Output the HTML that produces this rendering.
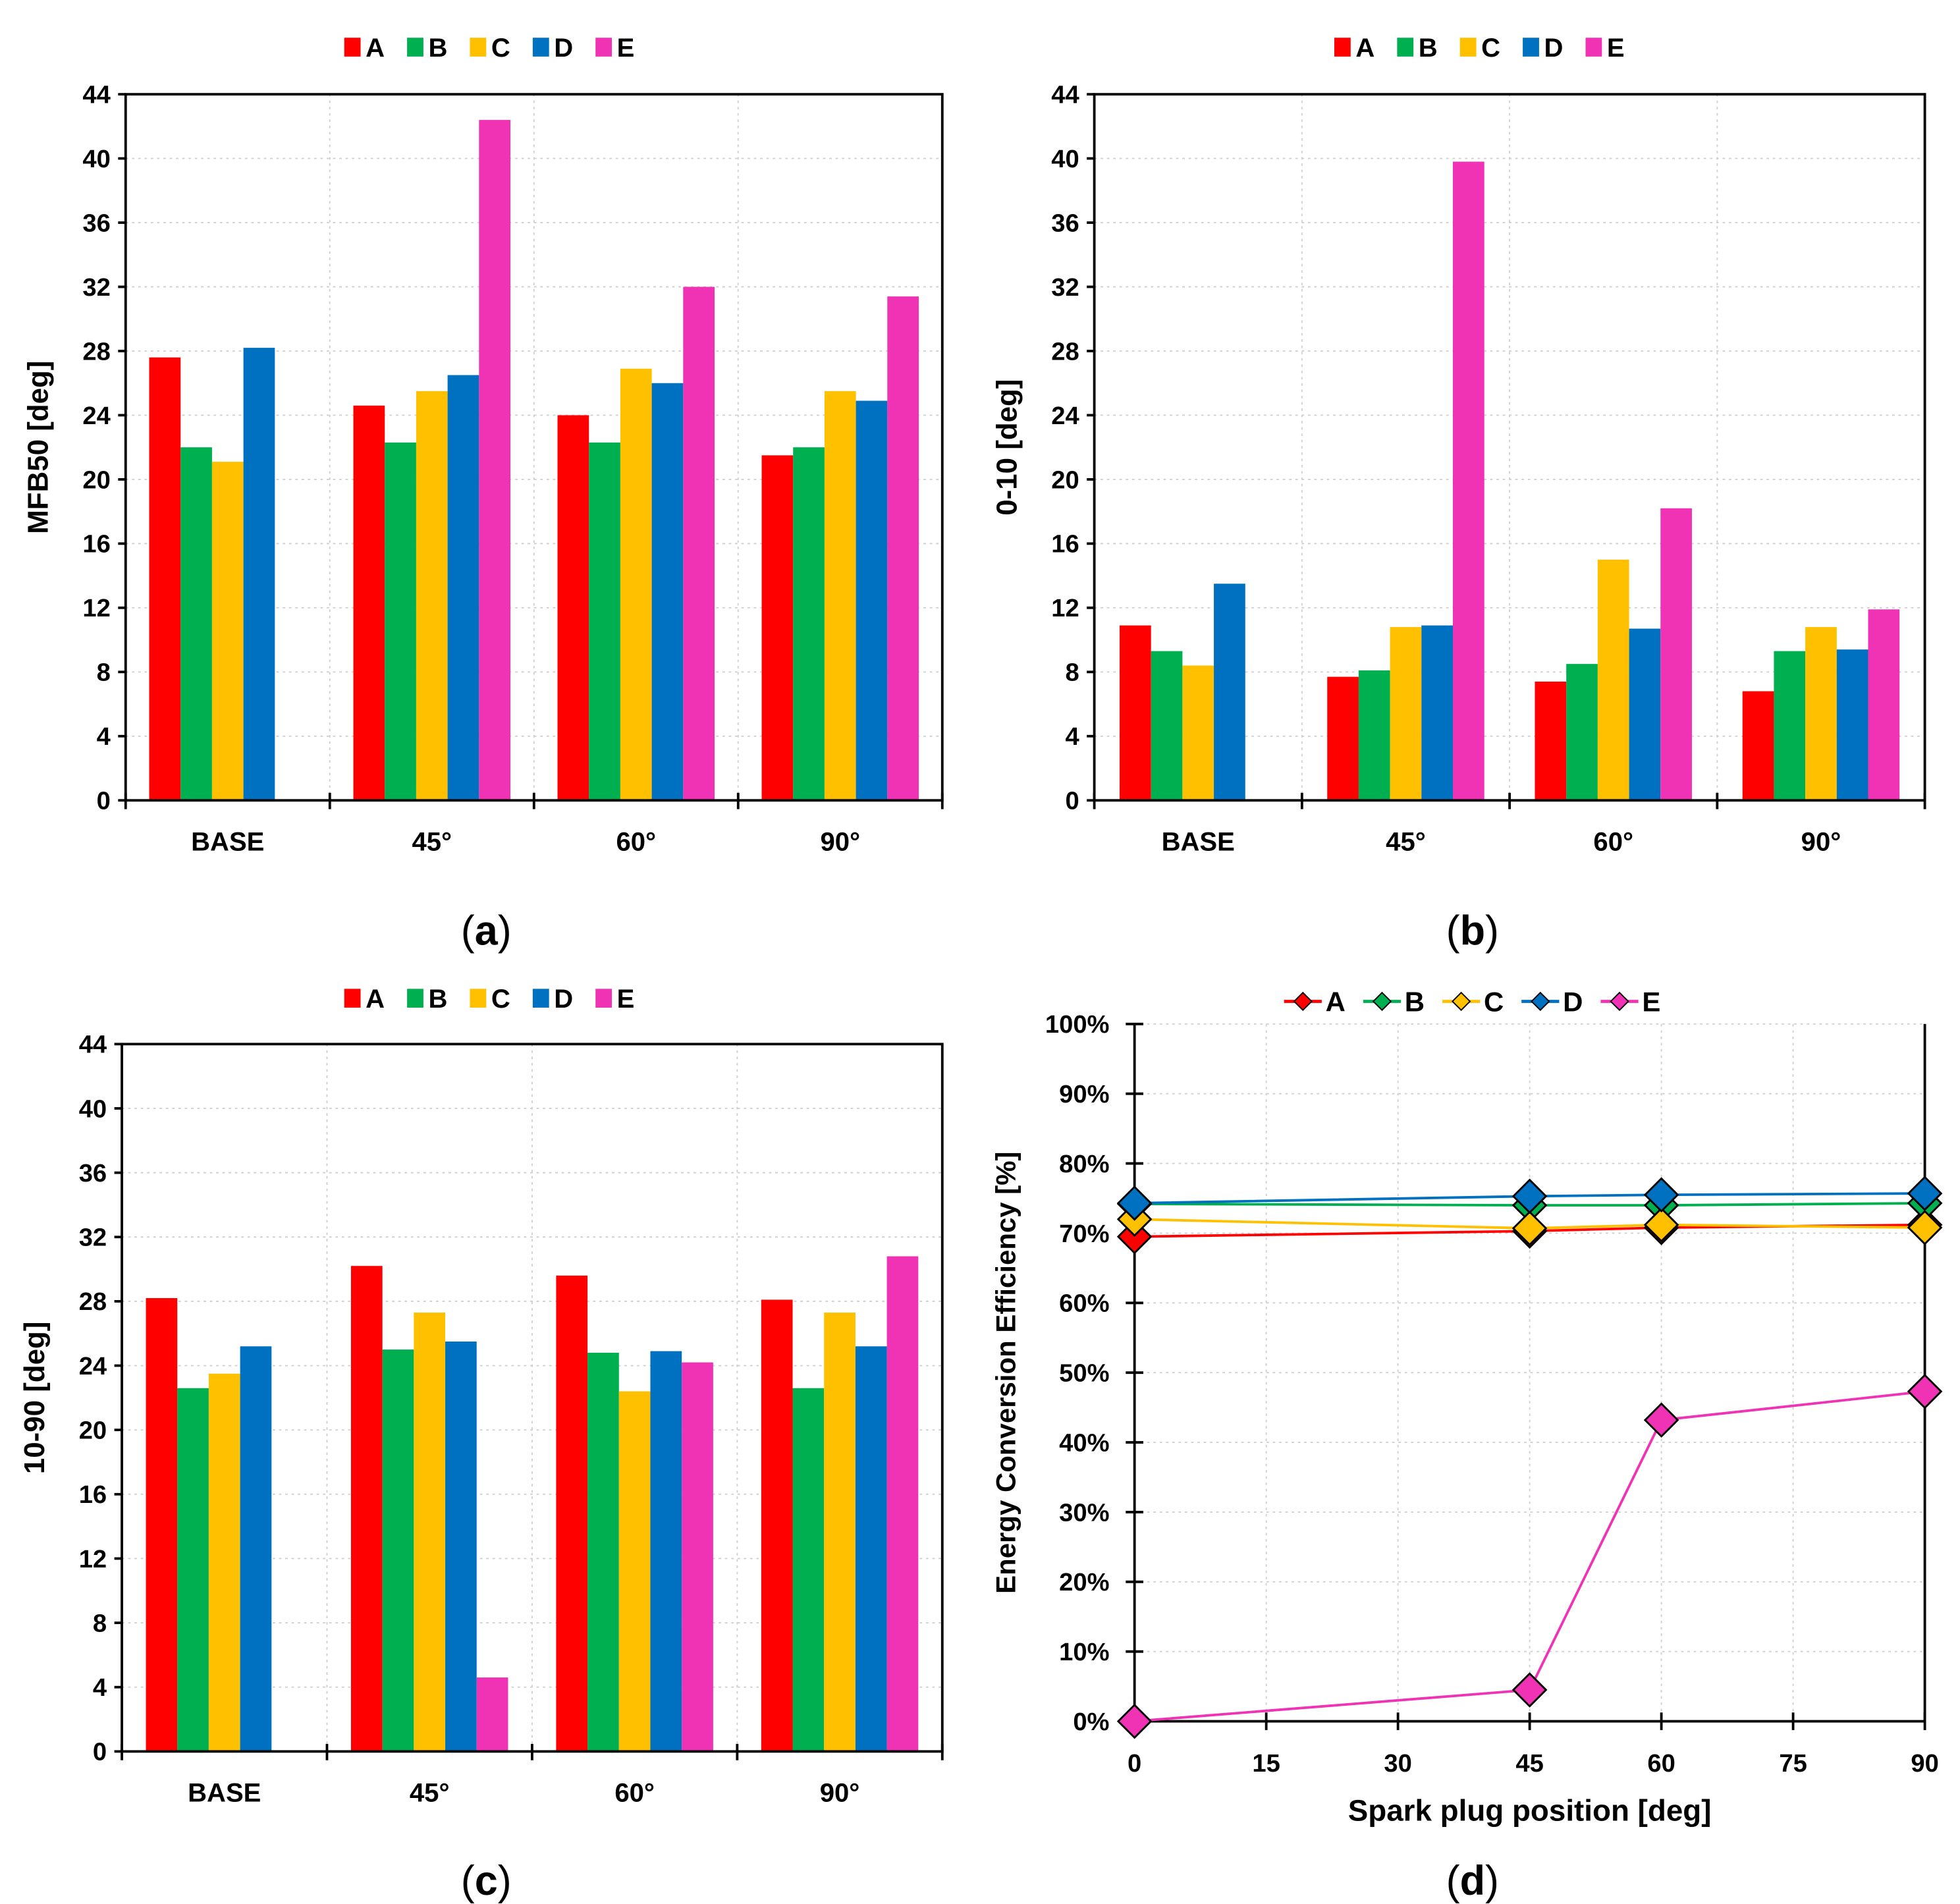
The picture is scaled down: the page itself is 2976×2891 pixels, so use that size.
<!DOCTYPE html>
<html><head><meta charset="utf-8"><style>
html,body{margin:0;padding:0;background:#fff}
svg{display:block}
text{font-family:"Liberation Sans",Arial,sans-serif}
</style></head><body>
<svg id="root" width="2976" height="2891" viewBox="0 0 1560 1515.4" xmlns="http://www.w3.org/2000/svg"></svg>
<script>
const categories = ["BASE","45°","60°","90°"];
const seriesNames = ["A","B","C","D","E"];
const colors = ["#ff0000","#00b050","#ffc000","#0070c0","#f032b4"];
const yTicksBar = [0,4,8,12,16,20,24,28,32,36,40,44];
// panel a: MFB50
const mfbA = [27.6,24.6,24.0,21.5];
const mfbB = [22.0,22.3,22.3,22.0];
const mfbC = [21.1,25.5,26.9,25.5];
const mfbD = [28.2,26.5,26.0,24.9];
const mfbE = [null,42.4,32.0,31.4];
// panel b: 0-10
const b010A = [10.9,7.7,7.4,6.8];
const b010B = [9.3,8.1,8.5,9.3];
const b010C = [8.4,10.8,15.0,10.8];
const b010D = [13.5,10.9,10.7,9.4];
const b010E = [null,39.8,18.2,11.9];
// panel c: 10-90
const c1090A = [28.2,30.2,29.6,28.1];
const c1090B = [22.6,25.0,24.8,22.6];
const c1090C = [23.5,27.3,22.4,27.3];
const c1090D = [25.2,25.5,24.9,25.2];
const c1090E = [null,4.6,24.2,30.8];
// panel d: efficiency
const xPos = [0,45,60,90];
const xTicksD = [0,15,30,45,60,75,90];
const yTicksD = [0,10,20,30,40,50,60,70,80,90,100];
const effA = [69.5,70.3,70.8,71.2];
const effB = [74.2,74.0,74.0,74.3];
const effC = [72.0,70.7,71.2,70.8];
const effD = [74.3,75.3,75.5,75.7];
const effE = [0,4.5,43.2,47.3];

const NS="http://www.w3.org/2000/svg";
const root=document.getElementById('root');
function mk(tag,attrs,parent,txt){const e=document.createElementNS(NS,tag);for(const k in attrs)e.setAttribute(k,attrs[k]);if(txt!==undefined)e.textContent=txt;(parent||root).appendChild(e);return e;}

function legend(g,x0,y,line){
  const step=line?63:50;
  seriesNames.forEach((n,i)=>{
    const x=x0+i*step;
    const le=mk('g',{},g);
    
    
    if(line){
      mk('line',{x1:x,y1:y,x2:x+30,y2:y,stroke:colors[i],'stroke-width':2.5},le);
      mk('polygon',{points:`${x+15},${y-7} ${x+22},${y} ${x+15},${y+7} ${x+8},${y}`,fill:colors[i],stroke:'#000','stroke-width':1},le);
      mk('text',{x:x+33,y:y+8,'font-size':22,'font-weight':'bold',fill:'#000'},le,n);
    } else {
      mk('rect',{x:x,y:y-7,width:13,height:15,fill:colors[i]},le);
      mk('text',{x:x+17,y:y+8,'font-size':21,'font-weight':'bold',fill:'#000'},le,n);
    }
  });
}

function barPanel(name,L,R,T,B,series,ytitle,legX,legY,caption,capX,capY){
  const g=mk('g',{});
  
  
  const ymax=44;
  const ys=v=>B-(v/ymax)*(B-T);
  const slot=(R-L)/categories.length;
  const bw=25;
  yTicksBar.forEach(t=>{ if(t>0) mk('line',{x1:L,y1:ys(t),x2:R,y2:ys(t),stroke:'#d0d0d0','stroke-width':1,'stroke-dasharray':'2,3'},g); });
  for(let i=1;i<categories.length;i++) mk('line',{x1:L+slot*i,y1:T,x2:L+slot*i,y2:B,stroke:'#d0d0d0','stroke-width':1,'stroke-dasharray':'2,3'},g);
  categories.forEach((c,ci)=>{
    const start=L+slot*ci+(slot-bw*5)/2;
    series.forEach((s,si)=>{
      const v=s[ci]; if(v===null) return;
      const r=mk('rect',{x:start+si*bw,y:ys(v),width:bw,height:B-ys(v),fill:colors[si]},g);
      
      
    });
  });
  mk('rect',{x:L,y:T,width:R-L,height:B-T,fill:'none',stroke:'#000','stroke-width':2},g);
  yTicksBar.forEach(t=>{
    mk('line',{x1:L-6,y1:ys(t),x2:L,y2:ys(t),stroke:'#000','stroke-width':2},g);
    mk('text',{x:L-12,y:ys(t)+7,'font-size':20,'font-weight':'bold','text-anchor':'end'},g,t);
  });
  for(let i=0;i<=categories.length;i++) mk('line',{x1:L+slot*i,y1:B-6,x2:L+slot*i,y2:B+7,stroke:'#000','stroke-width':2},g);
  categories.forEach((c,ci)=>{
    const t=mk('text',{x:L+slot*(ci+0.5),y:B+40,'font-size':21,'font-weight':'bold','text-anchor':'middle'},g,c);
    
    
  });
  const yt=mk('text',{x:0,y:0,'font-size':23,'font-weight':'bold','text-anchor':'middle',transform:`translate(${L-62},${(T+B)/2}) rotate(-90)`},g,ytitle);
  
  
  legend(g,legX,legY,false);
  const cp=mk('text',{x:capX,y:capY,'font-size':33,'text-anchor':'middle','font-family':'Liberation Serif, serif'},g);
  
  
  cp.innerHTML='(<tspan font-weight="bold">'+caption+'</tspan>)';
}

barPanel('panel-a-mfb50',100,750,75,637,[mfbA,mfbB,mfbC,mfbD,mfbE],'MFB50 [deg]',274,37,'a',387,752);
barPanel('panel-b-0-10',871,1532,75,637,[b010A,b010B,b010C,b010D,b010E],'0-10 [deg]',1062,37,'b',1172,752);
barPanel('panel-c-10-90',97,750,831,1394,[c1090A,c1090B,c1090C,c1090D,c1090E],'10-90 [deg]',274,794,'c',387,1508);

(function(){
  const g=mk('g',{});
  
  
  const L=903,R=1532,T=815,B=1370;
  const xs=v=>L+(v/90)*(R-L), ys=v=>B-(v/100)*(B-T);
  yTicksD.forEach(t=>{ if(t>0) mk('line',{x1:L,y1:ys(t),x2:R,y2:ys(t),stroke:'#d0d0d0','stroke-width':1,'stroke-dasharray':'2,3'},g); });
  xTicksD.forEach(t=>{ if(t>0&&t<90) mk('line',{x1:xs(t),y1:T,x2:xs(t),y2:B,stroke:'#d0d0d0','stroke-width':1,'stroke-dasharray':'2,3'},g); });
  mk('line',{x1:L,y1:T,x2:L,y2:B,stroke:'#000','stroke-width':2},g);
  mk('line',{x1:L,y1:B,x2:R,y2:B,stroke:'#000','stroke-width':2},g);
  mk('line',{x1:R,y1:T,x2:R,y2:B,stroke:'#000','stroke-width':2},g);
  yTicksD.forEach(t=>{
    mk('line',{x1:L-7,y1:ys(t),x2:L+7,y2:ys(t),stroke:'#000','stroke-width':2},g);
    mk('text',{x:L-20,y:ys(t)+7,'font-size':20,'font-weight':'bold','text-anchor':'end'},g,t+'%');
  });
  xTicksD.forEach(t=>{
    mk('line',{x1:xs(t),y1:B-7,x2:xs(t),y2:B+7,stroke:'#000','stroke-width':2},g);
    mk('text',{x:xs(t),y:B+40,'font-size':20,'font-weight':'bold','text-anchor':'middle'},g,t);
  });
  const all=[effA,effB,effC,effD,effE];
  all.forEach((s,si)=>{
    const pts=s.map((v,i)=>xs(xPos[i])+','+ys(v)).join(' ');
    const pl=mk('polyline',{points:pts,fill:'none',stroke:colors[si],'stroke-width':2},g);
    
    
  });
  all.forEach((s,si)=>{
    s.forEach((v,i)=>{
      const x=xs(xPos[i]),y=ys(v),r=13;
      const m=mk('polygon',{points:`${x},${y-r} ${x+r},${y} ${x},${y+r} ${x-r},${y}`,fill:colors[si],stroke:'#000','stroke-width':1.5},g);
      
      
    });
  });
  const yt=mk('text',{x:0,y:0,'font-size':22,'font-weight':'bold','text-anchor':'middle',transform:`translate(${L-95},${(T+B)/2}) rotate(-90)`},g,'Energy Conversion Efficiency [%]');
  
  
  const xt=mk('text',{x:(L+R)/2,y:B+79,'font-size':24,'font-weight':'bold','text-anchor':'middle'},g,'Spark plug position [deg]');
  
  
  legend(g,1022,797,true);
  const cp=mk('text',{x:1172,y:1508,'font-size':33,'text-anchor':'middle','font-family':'Liberation Serif, serif'},g);
  
  
  cp.innerHTML='(<tspan font-weight="bold">d</tspan>)';
})();
</script>
</body></html>
